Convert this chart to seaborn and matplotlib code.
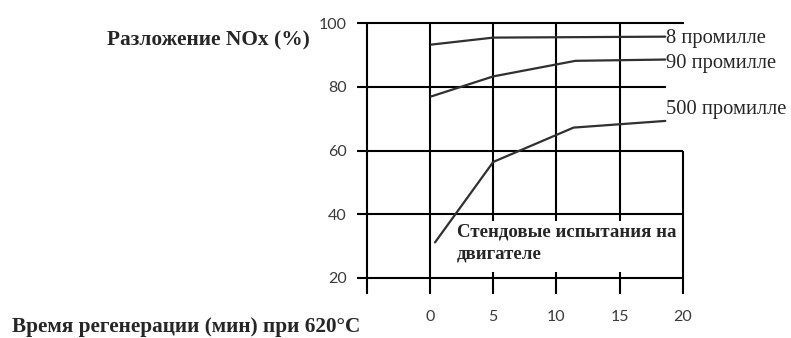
import seaborn as sns
import matplotlib.pyplot as plt
import pandas as pd
from matplotlib.patches import Rectangle

sns.set_style("white")

# Data
minutes_8 = [0.1, 5, 18.6]
nox_8 = [93.3, 95.5, 95.8]
minutes_90 = [0.1, 5, 11.5, 18.6]
nox_90 = [77.0, 83.3, 88.2, 88.6]
minutes_500 = [0.4, 5, 11.35, 18.6]
nox_500 = [31.1, 56.4, 67.2, 69.3]
series_names = ["8 промилле", "90 промилле", "500 промилле"]

x_ticks = [0, 5, 10, 15, 20]
y_ticks = [20, 40, 60, 80, 100]

rows = []
for name, xs, ys in zip(series_names, [minutes_8, minutes_90, minutes_500], [nox_8, nox_90, nox_500]):
    for x, y in zip(xs, ys):
        rows.append({"Время": x, "NOx": y, "Серия": name})
df = pd.DataFrame(rows)

fig = plt.figure(figsize=(7.91, 3.38), dpi=100)
ax = fig.add_axes([366.7 / 791, 1 - 277.7 / 338, 316.3 / 791, 254.4 / 338])
ax.set_xlim(-5, 20)
ax.set_ylim(20, 100)
for s in ax.spines.values():
    s.set_visible(False)

# grid of the original drawing (some lines are cut short)
h_ends = [20, 20, 20, 18.66, 20.1]
for yv, xe in zip(y_ticks, h_ends):
    ax.hlines(yv, -5.8, xe, color="black", lw=1.5, clip_on=False, zorder=1)
v_levels = [-5, 0, 5, 10, 15, 20]
v_tops = [100, 100, 100, 100, 100, 60]
for xv, yt in zip(v_levels, v_tops):
    ax.vlines(xv, 14.9, yt, color="black", lw=1.5, clip_on=False, zorder=1)

sns.lineplot(data=df, x="Время", y="NOx", hue="Серия", sort=False,
             palette=["#303030"] * 3, lw=1.6, legend=False, ax=ax, zorder=2)

# white box behind the note
ax.add_patch(Rectangle((1.86, 21.9), 17.9, 16.0, facecolor="white",
                       edgecolor="none", zorder=3))
ax.text(2.1, 37.0, "Стендовые испытания на\nдвигателе", family="Liberation Serif",
        fontweight="bold", fontsize=13.6, va="top", ha="left", linespacing=1.35, zorder=4)

label_y = [95.3, 87.3, 72.8]
for name, ly in zip(series_names, label_y):
    ax.text(18.65, ly, name, family="Liberation Serif", fontsize=14.8,
            va="center", ha="left", clip_on=False)

ax.set_xticks(x_ticks)
ax.set_xticklabels([str(v) for v in x_ticks], family="Lato", fontsize=11.5, color="#3a3a3a")
ax.set_yticks(y_ticks)
ax.set_yticklabels([str(v) for v in y_ticks], family="Lato", fontsize=11.5, color="#3a3a3a")
ax.tick_params(axis="x", length=0, pad=23.5)
ax.tick_params(axis="y", length=0, pad=14.5)
ax.set_xlabel("")
ax.set_ylabel("")

fig.text(107 / 791, 1 - 40 / 338, "Разложение NOx (%)", family="Liberation Serif",
         fontweight="bold", fontsize=15.4, va="center", ha="left")
fig.text(12 / 791, 1 - 327 / 338, "Время регенерации (мин) при 620°C", family="Liberation Serif",
         fontweight="bold", fontsize=15.3, va="center", ha="left")

fig.savefig("out.png", dpi=100)
plt.close(fig)
